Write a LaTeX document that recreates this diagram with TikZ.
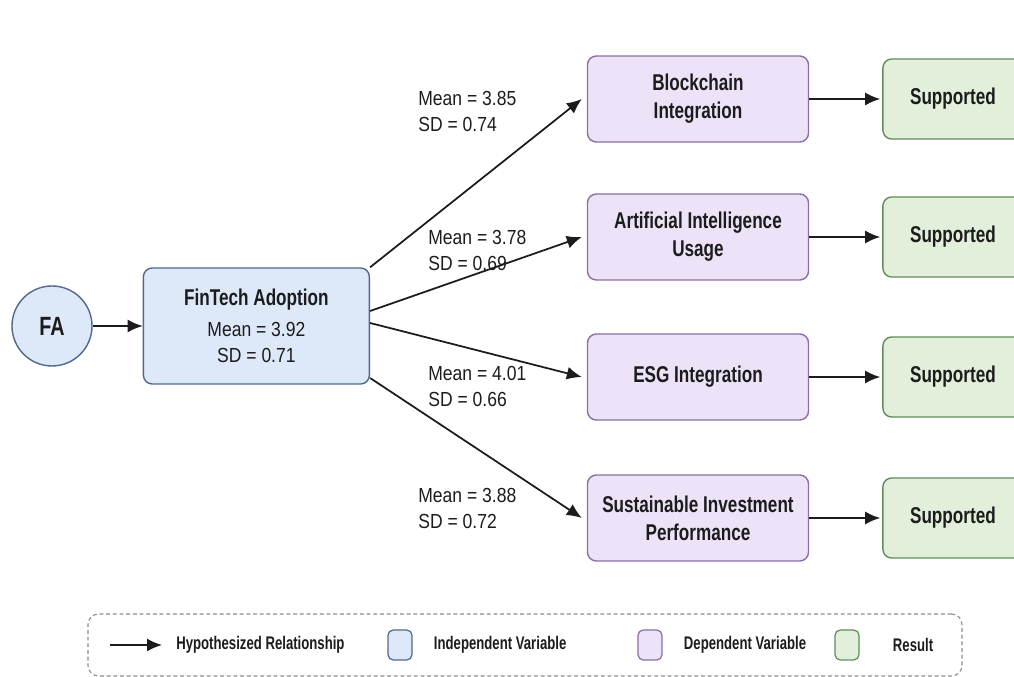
\documentclass[tikz,border=0pt]{standalone}
\usepackage{fontspec}
\setmainfont{Liberation Sans}[FakeStretch=0.86]
\newfontfamily\headfont{Liberation Sans}[FakeStretch=0.75]
\newfontfamily\keyfont{Liberation Sans}[FakeStretch=0.72]
\usepackage{xcolor}
\usetikzlibrary{arrows.meta,positioning}
\definecolor{ink}{HTML}{1C1C1C}
\definecolor{indepbg}{HTML}{DDE8F8}
\definecolor{indepln}{HTML}{50698C}
\definecolor{depbg}{HTML}{EDE3F8}
\definecolor{depln}{HTML}{8A6FA6}
\definecolor{resbg}{HTML}{E2EFDB}
\definecolor{resln}{HTML}{5F8E58}
\definecolor{rule}{HTML}{8A8A8A}

\begin{document}
\begin{tikzpicture}[x=0.2mm,y=-0.2mm,
  font=\fontsize{11.6}{14.8}\selectfont,text=ink,
  head/.style={font=\headfont\bfseries\fontsize{13}{16}\selectfont},
  indep/.style={draw=indepln,fill=indepbg,line width=0.8pt,rounded corners=5pt,align=center},
  dep/.style={draw=depln,fill=depbg,line width=0.8pt,rounded corners=5pt,align=center,
              minimum width=44.2mm,minimum height=17.2mm,head},
  res/.style={draw=resln,fill=resbg,line width=0.8pt,rounded corners=5pt,
              minimum width=28mm,minimum height=16mm,head},
  stat/.style={align=left,anchor=west,inner sep=0pt},
  key/.style={minimum width=4.8mm,minimum height=6mm,line width=0.7pt,rounded corners=3pt},
  keytext/.style={anchor=west,inner sep=0pt,font=\keyfont\bfseries\fontsize{10.4}{12}\selectfont},
  arr/.style={-{Latex[length=3mm,width=2.6mm]},line width=1pt,draw=ink}]

\useasboundingbox (0,0) rectangle (1014,677);

% construct and its measurement block
\node[indep,circle,minimum size=16mm,inner sep=0pt,head,font=\headfont\bfseries\fontsize{15}{16}\selectfont] (fa) at (52,326) {FA};
\node[indep,right=10mm of fa,minimum width=45.2mm,minimum height=23.2mm] (fin)
  {{\headfont\bfseries\fontsize{13}{16}\selectfont FinTech Adoption}\\[3pt]
   Mean = 3.92\\SD = 0.71};
\draw[arr] (fa) -- (fin);

% outcome variables
\node[dep] (bc)  at (698,99)  {Blockchain\\Integration};
\node[dep] (ai)  at (698,237) {Artificial Intelligence\\Usage};
\node[dep] (esg) at (698,377) {ESG Integration};
\node[dep] (sip) at (698,518) {Sustainable Investment\\Performance};

% hypothesis results
\node[res,right=14.6mm of bc]  (r1) {Supported};
\node[res,right=14.6mm of ai]  (r2) {Supported};
\node[res,right=14.6mm of esg] (r3) {Supported};
\node[res,right=14.6mm of sip] (r4) {Supported};

\node[stat] (s1) at (418,111) {Mean = 3.85\\SD = 0.74};
\node[stat] (s2) at (428,250) {Mean = 3.78\\SD = 0.69};
\node[stat] (s3) at (428,386) {Mean = 4.01\\SD = 0.66};
\node[stat] (s4) at (418,508) {Mean = 3.88\\SD = 0.72};

\draw[arr] (fin.north east) -- ([xshift=-1mm]bc.west);
\draw[arr] ([yshift=3mm]fin.east) -- ([xshift=-1mm]ai.west);
\draw[arr] ([yshift=0.6mm]fin.east) -- ([xshift=-1mm]esg.west);
\draw[arr] ([yshift=-10.4mm]fin.east) -- ([xshift=-1mm]sip.west);

\foreach \d/\r in {bc/r1,ai/r2,esg/r3,sip/r4}
  \draw[arr] (\d) -- ([xshift=-0.4mm]\r.west);

% legend
\node[draw=rule,dashed,dash pattern=on 2.2pt off 1.6pt,line width=0.6pt,rounded corners=6pt,
      minimum width=174.8mm,minimum height=12.4mm] (leg) at (525,645) {};
\coordinate (la) at (110,645);
\coordinate (lb) at (162,645);
\draw[arr] (la) -- (lb);
\node[keytext] (t1) at (176,645) {Hypothesized Relationship};
\node[key,draw=indepln,fill=indepbg] (k2) at (400,645) {};
\node[keytext,right=4.2mm of k2] (t2) {Independent Variable};
\node[key,draw=depln,fill=depbg] (k3) at (650,645) {};
\node[keytext,right=4.2mm of k3] (t3) {Dependent Variable};
\node[key,draw=resln,fill=resbg] (k4) at (847,645) {};
\node[keytext,right=6.6mm of k4] (t4) {Result};
\end{tikzpicture}
\end{document}
